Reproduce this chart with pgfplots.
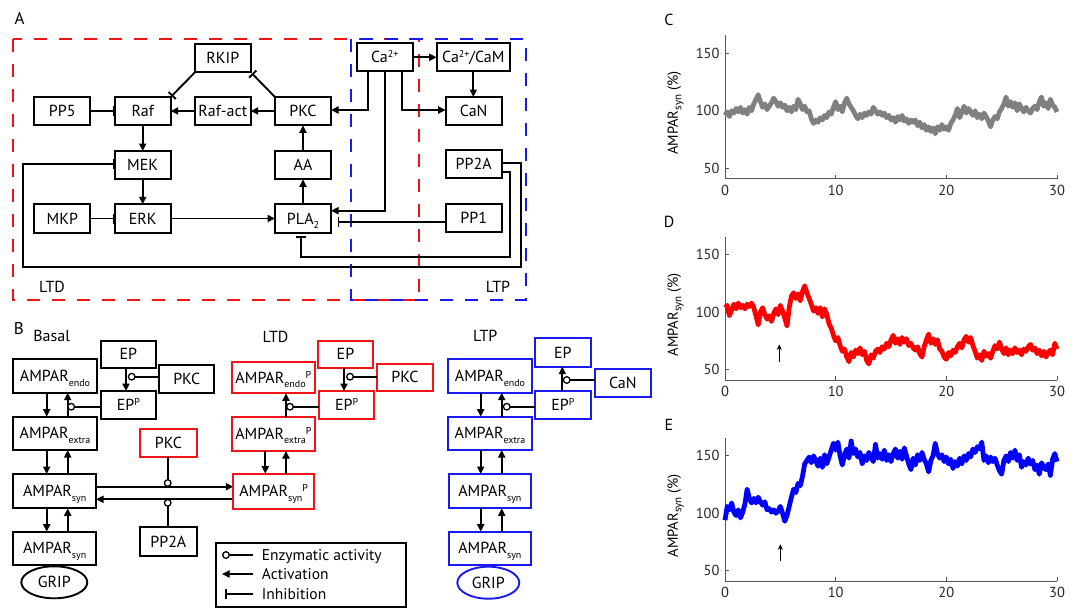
\documentclass[border=0pt]{standalone}
\usepackage{fontspec}
\setmainfont{PT Sans}
\usepackage{pgfplots}
\pgfplotsset{compat=1.18}
\usepackage{pgfplotstable}
\usetikzlibrary{arrows.meta}
\newcommand{\fs}[1]{\fontsize{#1}{#1}\selectfont}
\newcommand{\sub}[1]{\raisebox{-4.5pt}{\fs{10}#1}}
\newcommand{\sups}[1]{\raisebox{5pt}{\fs{10}#1}}
\definecolor{dred}{RGB}{240,20,25}
\definecolor{dblue}{RGB}{25,25,240}
\definecolor{lgray}{RGB}{128,128,128}
\definecolor{axgray}{RGB}{85,85,85}

\pgfplotstableread[row sep=\\]{x y\\
0 96\\0.2 99\\0.4 95\\0.6 100\\0.8 98\\1 102\\1.2 99\\1.4 103\\1.6 98\\1.8 101\\2 97\\2.2 103\\2.4 100\\2.6 106\\2.8 110\\3 114\\3.2 108\\3.4 103\\3.6 106\\3.8 101\\4 104\\4.2 107\\4.4 111\\4.6 108\\4.8 104\\5 107\\5.2 103\\5.4 105\\5.6 100\\5.8 103\\6 99\\6.2 104\\6.4 101\\6.6 110\\6.8 106\\7 101\\7.2 104\\7.4 99\\7.6 100\\7.8 93\\8 89\\8.2 92\\8.4 90\\8.6 94\\8.8 92\\9 96\\9.2 94\\9.4 99\\9.6 97\\9.8 103\\10 108\\10.2 101\\10.4 104\\10.6 99\\10.8 107\\11 111\\11.2 106\\11.4 103\\11.6 100\\11.8 96\\12 93\\12.2 97\\12.4 94\\12.6 98\\12.8 96\\13 99\\13.2 97\\13.4 103\\13.6 100\\13.8 97\\14 99\\14.2 96\\14.4 98\\14.6 94\\14.8 96\\15 92\\15.2 94\\15.4 90\\15.6 95\\15.8 92\\16 96\\16.2 91\\16.4 93\\16.6 89\\16.8 92\\17 90\\17.2 92\\17.4 87\\17.6 90\\17.8 85\\18 88\\18.2 83\\18.4 86\\18.6 82\\18.8 85\\19 80\\19.2 86\\19.4 83\\19.6 88\\19.8 84\\20 86\\20.2 83\\20.4 89\\20.6 92\\20.8 96\\21 102\\21.2 94\\21.4 99\\21.6 104\\21.8 98\\22 102\\22.2 99\\22.4 96\\22.6 100\\22.8 94\\23 97\\23.2 93\\23.4 98\\23.6 95\\23.8 91\\24 86\\24.2 92\\24.4 95\\24.6 93\\24.8 99\\25 102\\25.2 106\\25.4 112\\25.6 104\\25.8 108\\26 103\\26.2 107\\26.4 100\\26.6 106\\26.8 102\\27 99\\27.2 103\\27.4 100\\27.6 98\\27.8 102\\28 104\\28.2 101\\28.4 108\\28.6 112\\28.8 104\\29 107\\29.2 102\\29.4 110\\29.6 105\\29.8 103\\30 99\\
}\dataC

\pgfplotstableread[row sep=\\]{x y\\
0 104\\0.2 106\\0.4 97\\0.6 102\\0.8 107\\1 103\\1.2 108\\1.4 104\\1.6 106\\1.8 103\\2 107\\2.2 105\\2.4 108\\2.6 104\\2.8 97\\3 89\\3.2 100\\3.4 104\\3.6 98\\3.8 94\\4 97\\4.2 92\\4.4 99\\4.6 103\\4.8 98\\5 106\\5.2 101\\5.4 95\\5.6 88\\5.8 104\\6 114\\6.2 117\\6.4 112\\6.6 116\\6.8 110\\7 118\\7.2 123\\7.4 117\\7.6 112\\7.8 107\\8 101\\8.2 104\\8.4 99\\8.6 104\\8.8 96\\9 103\\9.2 98\\9.4 90\\9.6 86\\9.8 80\\10 75\\10.2 78\\10.4 71\\10.6 66\\10.8 68\\11 61\\11.2 57\\11.4 65\\11.6 61\\11.8 67\\12 64\\12.2 69\\12.4 63\\12.6 66\\12.8 58\\13 55\\13.2 63\\13.4 60\\13.6 66\\13.8 68\\14 65\\14.2 70\\14.4 68\\14.6 73\\14.8 70\\15 76\\15.2 80\\15.4 73\\15.6 77\\15.8 72\\16 78\\16.2 74\\16.4 77\\16.6 71\\16.8 73\\17 69\\17.2 67\\17.4 70\\17.6 64\\17.8 61\\18 70\\18.2 76\\18.4 81\\18.6 73\\18.8 77\\19 72\\19.2 76\\19.4 68\\19.6 66\\19.8 61\\20 59\\20.2 65\\20.4 62\\20.6 67\\20.8 65\\21 70\\21.2 73\\21.4 69\\21.6 76\\21.8 79\\22 74\\22.2 78\\22.4 71\\22.6 66\\22.8 60\\23 63\\23.2 58\\23.4 66\\23.6 62\\23.8 64\\24 60\\24.2 66\\24.4 71\\24.6 68\\24.8 74\\25 68\\25.2 64\\25.4 69\\25.6 63\\25.8 67\\26 64\\26.2 69\\26.4 65\\26.6 67\\26.8 63\\27 68\\27.2 66\\27.4 70\\27.6 72\\27.8 67\\28 69\\28.2 64\\28.4 67\\28.6 62\\28.8 66\\29 61\\29.2 65\\29.4 67\\29.6 63\\29.8 73\\30 68\\
}\dataD

\pgfplotstableread[row sep=\\]{x y\\
0 94\\0.2 106\\0.4 103\\0.6 109\\0.8 101\\1 98\\1.2 103\\1.4 96\\1.6 101\\1.8 108\\2 121\\2.2 113\\2.4 109\\2.6 113\\2.8 109\\3 114\\3.2 110\\3.4 107\\3.6 110\\3.8 103\\4 104\\4.2 101\\4.4 103\\4.6 100\\4.8 102\\5 106\\5.2 100\\5.4 93\\5.6 98\\5.8 106\\6 114\\6.2 121\\6.4 118\\6.6 126\\6.8 124\\7 132\\7.2 143\\7.4 146\\7.6 149\\7.8 144\\8 150\\8.2 146\\8.4 141\\8.6 148\\8.8 140\\9 151\\9.2 143\\9.4 149\\9.6 155\\9.8 161\\10 155\\10.2 162\\10.4 150\\10.6 142\\10.8 151\\11 156\\11.2 148\\11.4 163\\11.6 152\\11.8 156\\12 149\\12.2 153\\12.4 143\\12.6 150\\12.8 146\\13 153\\13.2 149\\13.4 145\\13.6 160\\13.8 148\\14 152\\14.2 147\\14.4 155\\14.6 146\\14.8 151\\15 145\\15.2 152\\15.4 156\\15.6 148\\15.8 154\\16 147\\16.2 157\\16.4 150\\16.6 143\\16.8 138\\17 148\\17.2 142\\17.4 151\\17.6 146\\17.8 153\\18 147\\18.2 143\\18.4 136\\18.6 146\\18.8 150\\19 161\\19.2 152\\19.4 148\\19.6 151\\19.8 145\\20 149\\20.2 143\\20.4 147\\20.6 139\\20.8 145\\21 141\\21.2 148\\21.4 143\\21.6 150\\21.8 146\\22 152\\22.2 149\\22.4 156\\22.6 153\\22.8 158\\23 156\\23.2 162\\23.4 146\\23.6 150\\23.8 144\\24 149\\24.2 145\\24.4 148\\24.6 142\\24.8 137\\25 134\\25.2 146\\25.4 150\\25.6 145\\25.8 153\\26 148\\26.2 155\\26.4 146\\26.6 151\\26.8 140\\27 145\\27.2 142\\27.4 148\\27.6 143\\27.8 146\\28 138\\28.2 142\\28.4 134\\28.6 144\\28.8 140\\29 138\\29.2 143\\29.4 133\\29.6 147\\29.8 152\\30 145\\
}\dataE

\tikzset{
  act/.style={line width=1.9pt, -{Triangle[length=7.5pt,width=7pt]}},
  inh/.style={line width=1.9pt, -{Bar[width=10pt,line width=1.9pt]}},
  enzl/.style={line width=1.9pt},
  lab/.style={inner sep=0pt, text height=11.2pt, text depth=0pt, font=\fs{16}},
}
\newcommand{\bx}[6]{\draw[line width=1.9pt,draw=#6] (#1,#2) rectangle (#3,#4);
  \node[lab] at ({(#1+#3)/2},{(#2+#4)/2}) {#5};}
\newcommand{\enz}[4]{\draw[enzl] (#1,#2) -- (#3,#4);
  \draw[line width=1.3pt, fill=white] (#3,#4) circle[radius=3.3pt];}

\pgfplotsset{myax/.style={
  width=332pt, height=143.5pt, scale only axis,
  xmin=0, xmax=30, ymin=41, ymax=166,
  axis lines=left, axis line style={-, color=axgray, line width=0.9pt},
  xtick={0,10,20,30}, ytick={50,100,150},
  tick style={color=axgray, line width=0.9pt},
  tick align=inside, major tick length=4pt,
  ticklabel style={font=\fs{14.5}, color=black!85},
  xticklabel style={yshift=-3pt},
  yticklabel style={xshift=-2pt},
  /pgf/number format/assume math mode=true,
  ylabel={AMPAR{\raisebox{-3.5pt}{\fs{11}syn}} (\%)},
  ylabel style={font=\fs{14.5}, at={(axis description cs:-0.1416,0.456)}, anchor=base},
  clip=false,
}}

\begin{document}
\begin{tikzpicture}
\path[use as bounding box] (0pt,0pt) rectangle (1081pt,-608pt);
\begin{scope}[x=1pt,y=-1pt,line join=miter]
% ---------------- Panel A ----------------
\node[lab,font=\fs{17}] at (19.5,19) {A};
\draw[dred, line width=1.7pt, dash pattern=on 13pt off 12pt] (13,39) rectangle (419,300);
\draw[dblue, line width=1.7pt, dash pattern=on 13pt off 12pt] (351,39) rectangle (526,300);
\bx{195}{44.3}{250.7}{72.3}{RKIP}{black}
\bx{34.3}{97}{90.3}{125.3}{PP5}{black}
\bx{114.7}{97}{170.7}{125.3}{Raf}{black}
\bx{195}{97}{250.7}{125.3}{Raf-act}{black}
\bx{275}{97}{331}{125.3}{PKC}{black}
\bx{114.7}{151}{170.7}{179.3}{MEK}{black}
\bx{275}{151}{331}{179.3}{AA}{black}
\bx{34.3}{204.3}{90.3}{232.7}{MKP}{black}
\bx{114.7}{204.3}{170.7}{232.7}{ERK}{black}
\bx{275}{204.3}{331}{232.7}{PLA\sub{2}}{black}
\bx{356.7}{43.3}{412.7}{71.3}{Ca\sups{2+}}{black}
\bx{436.7}{43.3}{510}{71.3}{Ca\sups{2+}/CaM}{black}
\bx{445.7}{97}{501.7}{125.3}{CaN}{black}
\bx{445.7}{150}{501.7}{177.7}{PP2A}{black}
\bx{445.7}{204}{501.7}{231.7}{PP1}{black}
\draw[inh] (195,72.3) -- (171.5,96.2);
\draw[inh] (275,97) -- (252,73.5);
\draw[inh] (90.3,111) -- (114.7,111);
\draw[act] (195,111) -- (170.7,111);
\draw[act] (275,111) -- (250.7,111);
\draw[act] (367.7,71.3) -- (367.7,110) -- (331,110);
\draw[act] (142.7,125.3) -- (142.7,151);
\draw[act] (142.7,179.3) -- (142.7,204.3);
\draw[act] (170.7,218.5) -- (275,218.5);
\draw[inh] (90.3,218.5) -- (114.7,218.5);
\draw[act] (303,204.3) -- (303,179.3);
\draw[act] (303,151) -- (303,125.3);
\draw[act] (385,71.3) -- (385,210.7) -- (331,210.7);
\draw[inh] (445.7,221.7) -- (337.5,221.7);
\draw[act] (412.7,57.3) -- (436.7,57.3);
\draw[act] (473.3,71.3) -- (473.3,97);
\draw[act] (401.7,71.3) -- (401.7,110) -- (445.7,110);
\draw[inh] (501.7,171.7) -- (510,171.7) -- (510,256.7) -- (301,256.7) -- (301,236);
\draw[inh] (501.7,162.7) -- (520.7,162.7) -- (520.7,266.7) -- (22.7,266.7) -- (22.7,164.3) -- (114.7,164.3);
\node[lab] at (52,287.3) {LTD};
\node[lab] at (498,287) {LTP};
% ---------------- Panel B ----------------
\node[lab,font=\fs{17}] at (18.8,329) {B};
\node[lab] at (51.7,335.8) {Basal};
\node[lab] at (275.5,336.5) {LTD};
\node[lab] at (485.3,335.8) {LTP};
% basal
\bx{100.7}{341}{156}{367.7}{EP}{black}
\bx{12.7}{359.3}{97.3}{392.7}{AMPAR\sub{endo}}{black}
\bx{159.3}{365}{214.3}{392.7}{PKC}{black}
\bx{100.7}{391}{156}{418.7}{EP\sups{P}}{black}
\bx{12.7}{416.7}{97.3}{450}{AMPAR\sub{extra}}{black}
\bx{140}{429}{196.7}{457.3}{PKC}{dred}
\bx{13.3}{474}{96}{508.3}{AMPAR\sub{syn}}{black}
\bx{140}{527.3}{196.7}{555.7}{PP2A}{black}
\bx{13.3}{531.7}{96}{565}{AMPAR\sub{syn}}{black}
\draw[line width=1.9pt] (54.3,582.3) ellipse [x radius=33pt, y radius=16pt];
\node[lab] at (54.3,582.3) {GRIP};
\draw[act] (126,367.7) -- (126,391);
\enz{159.3}{376.7}{131.7}{376.7}
\draw[act] (46.7,392.7) -- (46.7,416.7);
\draw[act] (67.7,416.7) -- (67.7,392.7);
\enz{100.7}{406.7}{71.2}{406.7}
\draw[act] (46.7,450) -- (46.7,474);
\draw[act] (67.7,474) -- (67.7,450);
\draw[act] (46.7,508.3) -- (46.7,531.7);
\draw[act] (67.7,531.7) -- (67.7,508.3);
\draw[act] (96,486.7) -- (233.3,486.7);
\draw[act] (233.3,499.3) -- (96,499.3);
\enz{167.7}{457.3}{167.7}{483}
\enz{167.7}{527.3}{167.7}{502.8}
% LTD
\bx{317.7}{341}{373.3}{367.7}{EP}{dred}
\bx{231.7}{361.7}{315}{393.3}{AMPAR\sub{endo}\sups{P}}{dred}
\bx{377.3}{364}{432.7}{390.7}{PKC}{dred}
\bx{319}{391}{374.3}{418.7}{EP\sups{P}}{dred}
\bx{231.7}{416.7}{315}{451}{AMPAR\sub{extra}\sups{P}}{dred}
\bx{233.3}{473.7}{314}{508.7}{AMPAR\sub{syn}\sups{P}}{dred}
\draw[act] (344,367.7) -- (344,391);
\enz{377.3}{376.7}{350}{376.7}
\draw[act] (286,416.7) -- (286,393.3);
\enz{319}{406.7}{290}{406.7}
\draw[act] (265.3,451) -- (265.3,473.7);
\draw[act] (286,473.7) -- (286,451);
% legend
\draw[line width=1.9pt] (216,543.3) rectangle (406,606.7);
\enz{253.3}{555}{226}{555}
\draw[act] (253.3,574) -- (222,574);
\draw[inh] (253.3,594) -- (225,594);
\node[lab,anchor=west,font=\fs{15.5}] at (261.7,555) {Enzymatic activity};
\node[lab,anchor=west,font=\fs{15.5}] at (261.7,574) {Activation};
\node[lab,anchor=west,font=\fs{15.5}] at (261.7,594) {Inhibition};
% LTP
\bx{535}{338.3}{590.7}{366.7}{EP}{dblue}
\bx{448.3}{359.3}{531.7}{392.7}{AMPAR\sub{endo}}{dblue}
\bx{595}{369.3}{650.7}{396.7}{CaN}{dblue}
\bx{535}{391}{590.7}{418.7}{EP\sups{P}}{dblue}
\bx{448.3}{416.7}{531.7}{450}{AMPAR\sub{extra}}{dblue}
\bx{449}{474}{530.7}{508.3}{AMPAR\sub{syn}}{dblue}
\bx{449}{531.7}{530.7}{565}{AMPAR\sub{syn}}{dblue}
\draw[line width=1.9pt, dblue] (488.3,582.7) ellipse [x radius=31pt, y radius=16pt];
\node[lab] at (488.3,582.7) {GRIP};
\draw[act] (562.3,391) -- (562.3,366.7);
\enz{595}{380}{566.7}{380}
\draw[act] (480.7,392.7) -- (480.7,416.7);
\draw[act] (501.7,416.7) -- (501.7,392.7);
\enz{535}{406.7}{506.7}{406.7}
\draw[act] (480.7,450) -- (480.7,474);
\draw[act] (501.7,474) -- (501.7,450);
\draw[act] (480.7,508.3) -- (480.7,531.7);
\draw[act] (501.7,531.7) -- (501.7,508.3);
% plot letters
\node[lab] at (669,20) {C};
\node[lab] at (669,221.7) {D};
\node[lab] at (669,425) {E};
\end{scope}

\begin{axis}[myax, at={(725pt,-178.5pt)}, anchor=south west]
\addplot[lgray, line width=4.8pt, line join=round] table[x=x,y=y] {\dataC};
\end{axis}

\begin{axis}[myax, at={(725pt,-380pt)}, anchor=south west]
\addplot[red, line width=4.8pt, line join=round] table[x=x,y=y] {\dataD};
\addplot[black, line width=1.3pt, -{Stealth[length=5.5pt,width=5pt]}] coordinates {(4.9,57) (4.9,72)};
\end{axis}

\begin{axis}[myax, at={(725pt,-581pt)}, anchor=south west]
\addplot[blue, line width=4.8pt, line join=round] table[x=x,y=y] {\dataE};
\addplot[black, line width=1.3pt, -{Stealth[length=5.5pt,width=5pt]}] coordinates {(5.0,58) (5.0,73)};
\end{axis}
\end{tikzpicture}
\end{document}
